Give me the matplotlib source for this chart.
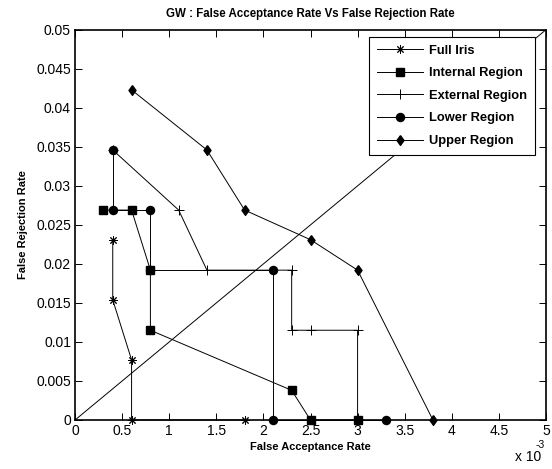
import matplotlib
matplotlib.use('Agg')
import matplotlib.pyplot as plt
from matplotlib.ticker import FuncFormatter

plt.rcParams['font.family'] = ['Liberation Sans', 'DejaVu Sans']

# False acceptance rate (x 10^-3) and false rejection rate for each region
full_far = [0.4, 0.4, 0.6, 0.6, 1.8]
full_frr = [0.0231, 0.0154, 0.0077, 0.0, 0.0]

int_far = [0.3, 0.6, 0.8, 0.8, 2.3, 2.5, 3.0]
int_frr = [0.0269, 0.0269, 0.0192, 0.0115, 0.0038, 0.0, 0.0]

ext_far = [0.4, 1.1, 1.4, 2.3, 2.3, 2.5, 3.0, 3.0]
ext_frr = [0.0346, 0.0269, 0.0192, 0.0192, 0.0115, 0.0115, 0.0115, 0.0]

low_far = [0.4, 0.4, 0.8, 0.8, 2.1, 2.1, 3.3]
low_frr = [0.0346, 0.0269, 0.0269, 0.0192, 0.0192, 0.0, 0.0]

up_far = [0.6, 1.4, 1.8, 2.5, 3.0, 3.8]
up_frr = [0.0423, 0.0346, 0.0269, 0.0231, 0.0192, 0.0]

# equal error line
eer_x = [0, 5]
eer_y = [0, 0.05]

fig = plt.figure(figsize=(5.52, 4.69), dpi=100)
ax = fig.add_axes([0.136, 0.1045, 0.853, 0.832])

lw = 0.7
diamond = [(0, 1), (0.72, 0), (0, -1), (-0.72, 0), (0, 1)]
ax.plot(full_far, full_frr, 'k-', marker=(8, 2, 0), ms=6, mew=0.7, lw=lw,
        label='Full Iris', clip_on=False)
ax.plot(int_far, int_frr, 'k-', marker='s', ms=5.5, lw=lw,
        label='Internal Region', clip_on=False)
ax.plot(ext_far, ext_frr, 'k-', marker='+', ms=7, mew=0.7, lw=lw,
        label='External Region', clip_on=False)
ax.plot(low_far, low_frr, 'k-', marker='o', ms=5.8, lw=lw,
        label='Lower Region', clip_on=False)
ax.plot(up_far, up_frr, 'k-', marker=diamond, ms=7, lw=lw,
        label='Upper Region', clip_on=False)
ax.plot(eer_x, eer_y, 'k-', lw=0.7)

ax.set_xlim(0, 5)
ax.set_ylim(0, 0.05)
ax.set_xticks([0, 0.5, 1, 1.5, 2, 2.5, 3, 3.5, 4, 4.5, 5])
ax.set_yticks([i * 0.005 for i in range(11)])
ax.xaxis.set_major_formatter(FuncFormatter(lambda v, p: '%g' % v))
ax.yaxis.set_major_formatter(FuncFormatter(lambda v, p: '%g' % round(v, 4)))
ax.tick_params(direction='in', top=True, right=True, length=5, width=0.7,
               labelsize=10, pad=3)
for s in ax.spines.values():
    s.set_linewidth(1.2)
    s.set_zorder(5)

ax.set_title('GW : False Acceptance Rate Vs False Rejection Rate',
             fontsize=8.3, fontweight='bold', pad=9)
ax.set_xlabel('False Acceptance Rate', fontsize=8, fontweight='bold', labelpad=3)
ax.set_ylabel('False Rejection Rate', fontsize=8, fontweight='bold', labelpad=6)
ax.text(0.99, -0.077, 'x 10', transform=ax.transAxes, fontsize=10,
        ha='right', va='top')
ax.text(0.977, -0.052, '-3', transform=ax.transAxes, fontsize=7.5,
        ha='left', va='top')

leg = ax.legend(loc='upper right', bbox_to_anchor=(0.976, 0.982),
                prop={'weight': 'bold', 'size': 9.3},
                fancybox=False, framealpha=1, edgecolor='black',
                handlelength=3.6, handletextpad=0.45, borderaxespad=0,
                borderpad=0.6, labelspacing=0.82)
leg.get_frame().set_linewidth(0.8)

fig.savefig('out.png', dpi=100)
